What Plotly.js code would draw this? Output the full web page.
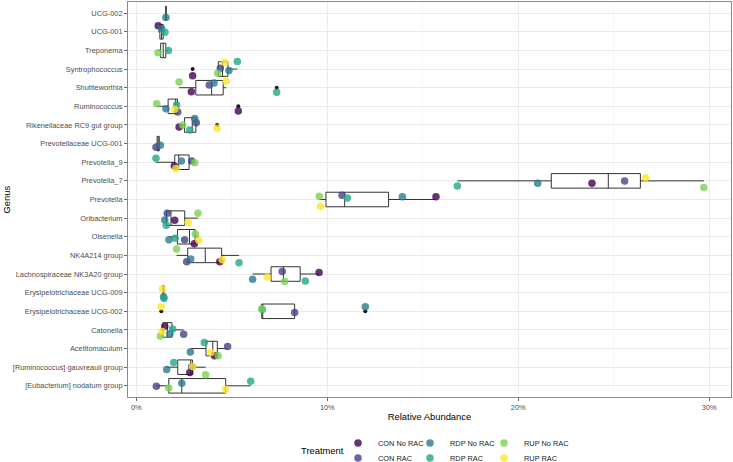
<!DOCTYPE html>
<html><head><meta charset="utf-8">
<script src="https://cdn.plot.ly/plotly-3.0.1.min.js"></script>
<style>html,body{margin:0;padding:0;background:#fff}#chart{width:733px;height:462px}</style>
</head><body><div id="chart"></div>
<script>
// ---- data (values in % relative abundance) ----
const genera = ['UCG-002','UCG-001','Treponema','Syntrophococcus','Shuttleworthia','Ruminococcus',
  'Rikenellaceae RC9 gut group','Prevotellaceae UCG-001','Prevotella_9','Prevotella_7','Prevotella',
  'Oribacterium','Olsenella','NK4A214 group','Lachnospiraceae NK3A20 group','Erysipelotrichaceae UCG-009',
  'Erysipelotrichaceae UCG-002','Catonella','Acetitomaculum','[Ruminococcus] gauvreauii group','[Eubacterium] nodatum group'];
const treatments = ['CON No RAC','CON RAC','RDP No RAC','RDP RAC','RUP No RAC','RUP RAC'];

const conNoRac = [null,1.15,null,2.95,2.88,5.34,2.24,null,1.99,23.86,15.69,2.01,3.04,4.37,9.57,null,null,1.49,4.10,2.80,null];
const conRac   = [null,null,null,4.40,3.82,2.17,3.14,1.03,2.90,25.57,10.77,1.62,2.53,2.64,7.64,null,8.29,2.48,4.78,2.90,1.05];
const rdpNoRac = [1.55,1.32,null,4.85,4.07,1.55,3.06,1.26,2.36,21.02,13.93,1.49,1.71,2.85,6.09,1.43,11.99,1.76,2.83,1.59,2.38];
const rdpRac   = [null,1.50,1.68,5.29,7.35,2.11,2.80,null,1.03,16.81,11.05,1.57,2.03,5.38,8.85,1.45,6.60,1.90,3.56,1.96,5.99];
const rupNoRac = [null,null,1.14,4.26,2.24,1.07,2.43,null,3.06,29.72,9.58,3.23,3.09,2.11,7.77,null,6.57,1.26,4.29,3.63,1.70];
const rupRac   = [null,null,null,4.63,4.71,2.01,4.23,null,2.08,26.67,9.65,2.71,3.27,4.50,6.86,1.37,1.31,1.36,3.91,2.95,4.68];

// vertical jitter (fraction of one category step, + = downward)
const jitConNoRac = [0,-0.32,0,0.36,0.22,0.25,0.11,0,0.19,0.13,-0.15,0.11,0.37,0.34,-0.08,0,0,-0.18,0.38,0.28,0];
const jitConRac   = [0,0,0,-0.04,-0.14,0.31,-0.12,0.2,-0.06,0.01,-0.23,-0.26,0.16,0.34,-0.14,0,0.07,0.23,-0.11,-0.02,0.02];
const jitRdpNoRac = [0.23,-0.18,0,0.07,-0.25,0.13,-0.35,0.09,-0.06,0.13,-0.15,0.1,0.16,0.19,0.28,0.22,-0.25,0.21,0.18,0.12,-0.14];
const jitRdpRac   = [0,0.03,0,-0.4,0.25,-0.07,0.27,0,-0.21,0.28,-0.08,0.38,0.08,0.4,0.37,0.32,-0.1,-0.05,-0.32,-0.25,-0.25];
const jitRupNoRac = [0,0,0.13,0.23,-0.3,-0.14,0.0,0,0.03,0.35,-0.17,-0.26,-0.15,-0.35,0.4,0,-0.13,0.32,0.39,0.4,0.12];
const jitRupRac   = [0,0,0,-0.36,-0.35,0.15,0.18,0,0.33,-0.17,0.36,0.24,0.19,0.24,0.16,-0.2,-0.24,0.09,0.21,-0.04,0.18];

const seriesValues = [conNoRac, conRac, rdpNoRac, rdpRac, rupNoRac, rupRac];
const seriesJitter = [jitConNoRac, jitConRac, jitRdpNoRac, jitRdpRac, jitRupNoRac, jitRupRac];
const colors = ['#440154','#414487','#2A788E','#22A884','#7AD151','#FDE725'];
const xTicks = [0,10,20,30];
const xTickText = ['0%','10%','20%','30%'];

// ---- box statistics (R quantile type 7, Tukey whiskers) ----
function q7(s,p){const h=(s.length-1)*p,lo=Math.floor(h),hi=Math.ceil(h);return s[lo]+(h-lo)*(s[hi]-s[lo]);}
const pos=[],Q1=[],MED=[],Q3=[],LF=[],UF=[],outX=[],outY=[];
genera.forEach((g,i)=>{
  const v=seriesValues.map(a=>a[i]).filter(x=>x!=null).sort((a,b)=>a-b);
  if(!v.length) return;
  const q1=q7(v,0.25),md=q7(v,0.5),q3=q7(v,0.75),iqr=q3-q1;
  const inside=v.filter(x=>x>=q1-1.5*iqr-1e-9 && x<=q3+1.5*iqr+1e-9);
  pos.push(i);Q1.push(q1);MED.push(md);Q3.push(q3);
  LF.push(Math.min(...inside));UF.push(Math.max(...inside));
  v.forEach(x=>{if(x<q1-1.5*iqr-1e-9||x>q3+1.5*iqr+1e-9){outX.push(x);outY.push(i);}});
});

const font='"Liberation Sans", Arial, sans-serif';
const traces=[{
  type:'box',orientation:'h',y:pos,q1:Q1,median:MED,q3:Q3,lowerfence:LF,upperfence:UF,
  width:0.78,fillcolor:'#ffffff',line:{color:'#333333',width:1},whiskerwidth:0,
  boxpoints:false,showlegend:false,hoverinfo:'skip'
},{
  type:'scatter',mode:'markers',x:outX,y:outY,marker:{color:'#1a1a1a',size:4},
  showlegend:false,hoverinfo:'skip'
}];
// one legend box per entry so the 3x2 column-major grid can be placed like the reference
const legendIds=['legend','legend2','legend3','legend4','legend5','legend6'];
treatments.forEach((t,k)=>{
  const xs=[],ys=[];
  seriesValues[k].forEach((v,i)=>{if(v!=null){xs.push(v);ys.push(i+seriesJitter[k][i]);}});
  traces.push({type:'scatter',mode:'markers',name:t,x:xs,y:ys,
    marker:{color:colors[k],size:7.5,opacity:0.8},legend:legendIds[k]});
});

const legBase={orientation:'v',xref:'container',yref:'container',xanchor:'left',yanchor:'middle',
  bgcolor:'rgba(0,0,0,0)',font:{family:font,size:7.4,color:'#1a1a1a'},tracegroupgap:0};
const legCols=[338,410,484], legRows=[443,458];
const layout={
  width:733,height:462,margin:{l:128,r:2,t:2,b:65,autoexpand:false},
  paper_bgcolor:'#fff',plot_bgcolor:'#fff',
  font:{family:font,color:'#4D4D4D'},
  xaxis:{type:'linear',range:[-0.435,31.14],tickmode:'array',tickvals:xTicks,ticktext:xTickText,
    showgrid:true,gridcolor:'#EBEBEB',gridwidth:1,zeroline:false,
    minor:{tickmode:'linear',tick0:0,dtick:5,showgrid:true,gridcolor:'#F3F3F3',gridwidth:0.6,ticks:''},
    showline:true,mirror:true,linecolor:'#8a8a8a',linewidth:1,
    ticks:'outside',ticklen:3,tickcolor:'#6a6a6a',tickwidth:1,
    tickfont:{family:font,size:7.4,color:'#4D4D4D'},
    title:{text:'Relative Abundance',font:{family:font,size:9.4,color:'#000'},standoff:2},automargin:false},
  yaxis:{type:'linear',range:[20.6,-0.6],tickmode:'array',tickvals:genera.map((g,i)=>i),ticktext:genera,
    showgrid:true,gridcolor:'#EBEBEB',gridwidth:1,zeroline:false,
    showline:true,mirror:true,linecolor:'#8a8a8a',linewidth:1,
    ticks:'outside',ticklen:3,tickcolor:'#6a6a6a',tickwidth:1,
    tickfont:{family:font,size:7.4,color:'#4D4D4D'},automargin:false},
  annotations:[
    {text:'Genus',xref:'paper',yref:'paper',x:(6-128)/603,y:0.5,textangle:-90,
     xanchor:'center',yanchor:'middle',showarrow:false,font:{family:font,size:9.4,color:'#000'}},
    {text:'Treatment',xref:'paper',yref:'paper',x:(322-128)/603,y:(397-450.7)/395,
     xanchor:'center',yanchor:'middle',showarrow:false,font:{family:font,size:9.4,color:'#000'}}]
};
legendIds.forEach((id,k)=>{
  layout[id]=Object.assign({},legBase,{x:legCols[Math.floor(k/2)]/733,y:1-legRows[k%2]/462});
});
Plotly.newPlot('chart',traces,layout,{displayModeBar:false,staticPlot:true});
</script></body></html>
